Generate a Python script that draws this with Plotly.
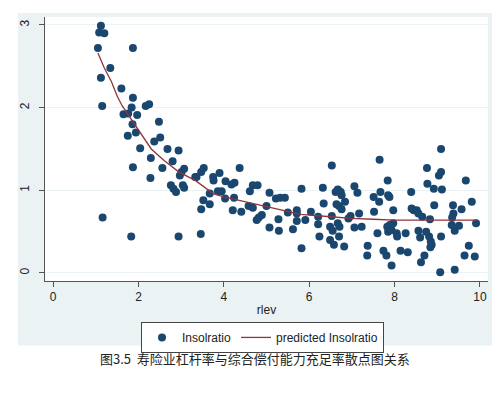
import plotly.graph_objects as go

# scatter data (rlev, Insolratio)
rlev = [1.12, 1.08, 1.20, 1.05, 1.87, 1.34, 1.12, 1.60, 1.87, 1.15, 1.84, 2.17, 2.25, 1.65, 1.76, 1.97,
        1.86, 2.48, 1.94, 1.75, 2.37, 2.51, 2.04, 2.68, 2.94, 2.29, 2.80, 1.87, 2.56, 3.07, 3.01, 2.97,
        2.28, 2.76, 2.82, 2.88, 3.04, 3.07, 3.33, 1.16, 1.83, 2.94,
        3.53, 3.47, 3.36, 4.37, 3.75, 3.90, 3.76, 4.04, 4.25, 4.18, 6.53, 3.86, 3.95, 3.67, 4.03, 4.24,
        3.52, 3.47, 3.67, 3.46, 4.68, 4.79, 4.61, 5.07, 5.22, 5.32, 5.43, 5.82, 6.32, 4.21, 4.41, 4.58,
        4.68, 5.00, 4.89, 4.77, 4.82, 5.07, 5.28, 5.29, 5.50, 5.71, 5.71, 5.71, 5.91, 5.62, 6.04, 6.21,
        6.21, 6.24, 5.82, 6.34, 6.53, 6.62, 6.64, 6.49, 6.55, 6.49, 6.58, 6.67,
        9.09, 7.65, 8.76, 9.09, 9.04, 9.67, 7.84, 8.77, 8.92, 9.11, 8.39, 6.68, 6.74, 6.76, 6.84, 6.70,
        6.76, 7.06, 7.13, 7.67, 7.85, 7.88, 7.51, 7.64, 7.97, 7.52, 7.17, 6.97, 6.92, 6.67, 6.71, 7.06,
        7.23, 6.70, 6.82, 7.60, 7.83, 7.89, 7.85, 7.93, 8.05, 8.06, 7.97, 8.26, 8.40, 8.45, 8.52, 8.56,
        8.65, 8.83, 8.93, 8.56, 8.74, 8.60, 8.81, 8.85, 8.87, 9.09, 8.70, 8.62, 9.07, 9.41, 9.64, 9.88,
        9.74, 9.37, 9.38, 9.35, 9.34, 9.41, 9.51, 9.57, 9.81, 9.91, 7.37, 7.36, 7.74, 7.81, 7.93, 8.14,
        8.31, 8.84]
insolratio = [2.99, 2.91, 2.90, 2.72, 2.72, 2.48, 2.36, 2.23, 2.12, 2.02, 2.00, 2.02, 2.04, 1.92, 1.93, 1.91,
              1.80, 1.83, 1.70, 1.66, 1.59, 1.64, 1.51, 1.50, 1.48, 1.39, 1.35, 1.28, 1.27, 1.26, 1.22, 1.18,
              1.15, 1.06, 1.02, 0.98, 1.06, 1.03, 1.16, 0.67, 0.44, 0.44,
              1.27, 1.22, 1.16, 1.27, 1.16, 1.21, 1.12, 1.11, 1.09, 1.07, 1.30, 0.99, 0.99, 0.96, 0.90, 0.91,
              0.88, 0.77, 0.83, 0.47, 1.06, 1.06, 0.99, 0.97, 0.90, 0.91, 0.91, 1.02, 1.03, 0.76, 0.74, 0.81,
              0.79, 0.81, 0.70, 0.64, 0.67, 0.55, 0.65, 0.51, 0.73, 0.76, 0.72, 0.63, 0.64, 0.53, 0.74, 0.68,
              0.59, 0.44, 0.30, 0.84, 0.69, 0.98, 0.83, 0.56, 0.51, 0.40, 0.34, 1.01,
              1.50, 1.37, 1.27, 1.22, 1.18, 1.12, 1.12, 1.08, 1.02, 1.01, 0.98, 1.00, 0.98, 0.94, 0.86, 0.81,
              0.77, 1.05, 0.97, 0.98, 0.94, 0.92, 0.92, 0.86, 0.76, 0.74, 0.72, 0.69, 0.66, 0.60, 0.56, 0.55,
              0.56, 0.44, 0.32, 0.48, 0.56, 0.58, 0.50, 0.52, 0.48, 0.44, 0.60, 0.48, 0.78, 0.76, 0.76, 0.72,
              0.68, 0.65, 0.82, 0.51, 0.50, 0.43, 0.44, 0.38, 0.34, 0.44, 0.21, 0.13, 0.01, 0.04, 0.21, 0.20,
              0.33, 0.82, 0.72, 0.67, 0.58, 0.51, 0.57, 0.77, 0.86, 0.60, 0.33, 0.21, 0.27, 0.21, 0.09, 0.27,
              0.25, 0.31]

# predicted curve
pred_x = [1.05, 1.2, 1.37, 1.5, 1.62, 1.76, 2.0, 2.3, 2.6, 2.95, 3.33, 3.75, 4.0, 4.6, 5.0, 5.4,
          5.8, 6.5, 7.0, 7.5, 8.0, 8.5, 9.0, 9.5, 9.92]
pred_y = [2.66, 2.48, 2.31, 2.14, 2.02, 1.91, 1.72, 1.50, 1.36, 1.22, 1.12, 0.96, 0.92, 0.85, 0.80, 0.76,
          0.71, 0.68, 0.66, 0.65, 0.64, 0.64, 0.64, 0.64, 0.64]

x_ticks = [0, 2, 4, 6, 8, 10]
y_ticks = [0, 1, 2, 3]

navy = "#1a476f"
maroon = "#90353b"
bg_blue = "#eaf2f3"

fig = go.Figure()
fig.add_trace(go.Scatter(x=rlev, y=insolratio, mode="markers", name="Insolratio",
                         marker=dict(color=navy, size=8, line=dict(width=0))))
fig.add_trace(go.Scatter(x=pred_x, y=pred_y, mode="lines", name="predicted Insolratio",
                         line=dict(color=maroon, width=1.3)))

fig.update_layout(
    width=492, height=385,
    margin=dict(l=37, r=12, t=9, b=112, autoexpand=False),
    paper_bgcolor="white",
    plot_bgcolor="white",
    font=dict(family="Liberation Sans, Arial, sans-serif", size=12, color="#222"),
    shapes=[
        dict(type="rect", xref="paper", yref="paper", x0=-0.061, x1=1.0113, y0=-0.244, y1=1.015,
             fillcolor=bg_blue, line=dict(width=0), layer="below"),
        dict(type="rect", xref="paper", yref="paper", x0=0, x1=1, y0=0, y1=1,
             fillcolor="white", line=dict(width=0), layer="below"),
    ],
    legend=dict(orientation="h", x=0.491, xanchor="center", y=-0.155, yanchor="top",
                bgcolor="white", bordercolor="#444", borderwidth=1,
                font=dict(size=12, color="#222"), itemwidth=30, tracegroupgap=0),
    annotations=[
        dict(text="图3.5  寿险业杠杆率与综合偿付能力充足率散点图关系", xref="paper", yref="paper",
             x=0.474, y=-0.292, xanchor="center", yanchor="middle", showarrow=False,
             font=dict(family="Noto Sans CJK SC", size=13, color="#222")),
    ],
)
fig.update_xaxes(range=[-0.19, 10.19], tickvals=x_ticks, showgrid=False, zeroline=False,
                 showline=True, linecolor="#555", linewidth=1, ticks="outside", ticklen=5,
                 tickcolor="#555", automargin=False,
                 title=dict(text="rlev", standoff=2, font=dict(size=12)))
fig.update_yaxes(range=[-0.097, 3.096], tickvals=y_ticks, showgrid=True, gridcolor=bg_blue,
                 gridwidth=1, zeroline=False, showline=True, linecolor="#555", linewidth=1,
                 ticks="outside", ticklen=5, tickcolor="#555", tickangle=-90, automargin=False,
                 ticklabelstandoff=5)

fig.write_html("out.html")
